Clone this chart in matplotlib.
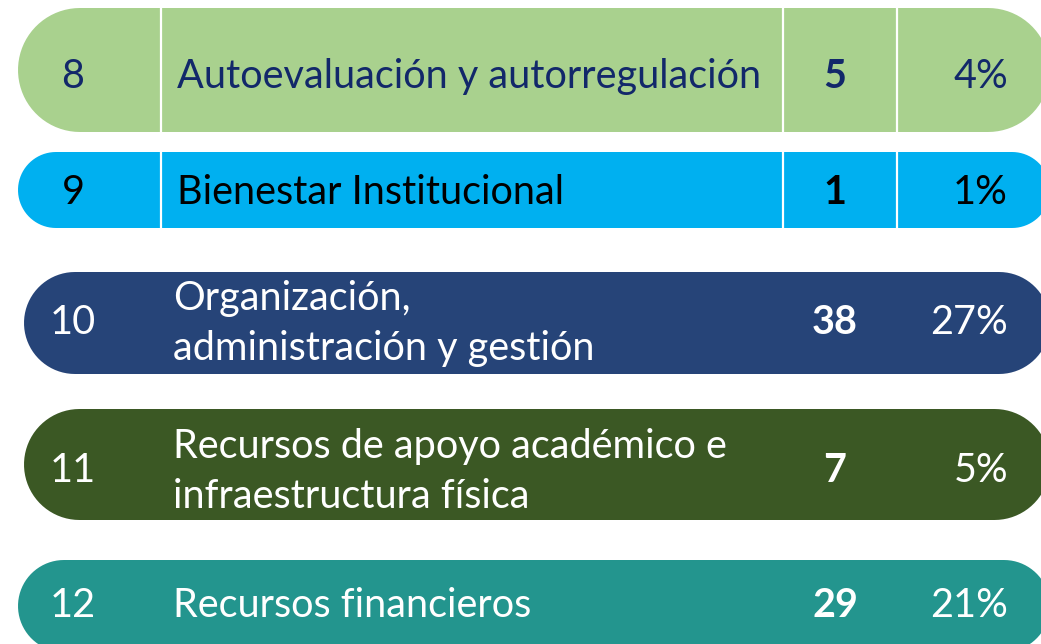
import numpy as np
import matplotlib
matplotlib.use("Agg")
from matplotlib import pyplot as plt
from matplotlib.patches import Polygon

# values
ids = ["8", "9", "10", "11", "12"]
labels = ["Autoevaluación y autorregulación",
          "Bienestar Institucional",
          "Organización,\nadministración y gestión",
          "Recursos de apoyo académico e\ninfraestructura física",
          "Recursos financieros"]
counts = [5, 1, 38, 7, 29]
pcts = ["4%", "1%", "27%", "5%", "21%"]

fills = ["#A9D18E", "#00B0F0", "#264478", "#3B5824", "#23958E"]
inks = ["#12286A", "#000000", "#FFFFFF", "#FFFFFF", "#FFFFFF"]

# pixel layout
tops = [8, 152, 272, 409, 560]
bottoms = [132, 228, 374, 520, 652]
lefts = [18, 18, 24, 24, 18]
baselines = [88, 204, 334, 482, 617]
label_x = [177, 177, 173, 173, 173]
line_gap = 50

plt.rcParams['font.family'] = ['Lato', 'DejaVu Sans']
fs = 28.5


def capsule(x0, x1, y0, y1):
    r = (y1 - y0) / 2
    cy = (y0 + y1) / 2
    t = np.linspace(np.pi / 2, 3 * np.pi / 2, 40)
    left = np.column_stack([x0 + r + r * np.cos(t), cy - r * np.sin(t)])
    t2 = np.linspace(-np.pi / 2, np.pi / 2, 40)
    right = np.column_stack([x1 - r + r * np.cos(t2), cy - r * np.sin(t2)])
    return np.vstack([left, right])


fig = plt.figure(figsize=(10.41, 6.44), dpi=100)
ax = fig.add_axes([0, 0, 1, 1])
ax.set_xlim(0, 1041)
ax.set_ylim(644, 0)
ax.axis('off')

for i in range(len(ids)):
    top, bot = tops[i], bottoms[i]
    ax.add_patch(Polygon(capsule(lefts[i], 1050, top, bot), closed=True,
                         fc=fills[i], ec='none'))
    if i < 2:
        for sx in [161, 783, 897]:
            ax.plot([sx, sx], [top, bot], color='white', lw=1.6)
    b = baselines[i]
    ax.text(73, b, ids[i], ha='center', va='baseline', fontsize=fs, color=inks[i])
    lines = labels[i].split("\n")
    if len(lines) == 1:
        ax.text(label_x[i], b, lines[0], ha='left', va='baseline', fontsize=fs,
                color=inks[i])
    else:
        first = b - 24
        for k, ln in enumerate(lines):
            ax.text(label_x[i], first + k * line_gap, ln, ha='left', va='baseline',
                    fontsize=fs, color=inks[i])
    ax.text(835, b, str(counts[i]), ha='center', va='baseline', fontsize=fs,
            fontweight='bold', color=inks[i])
    ax.text(1008, b, pcts[i], ha='right', va='baseline', fontsize=fs, color=inks[i])

fig.savefig('out.png', dpi=100)
